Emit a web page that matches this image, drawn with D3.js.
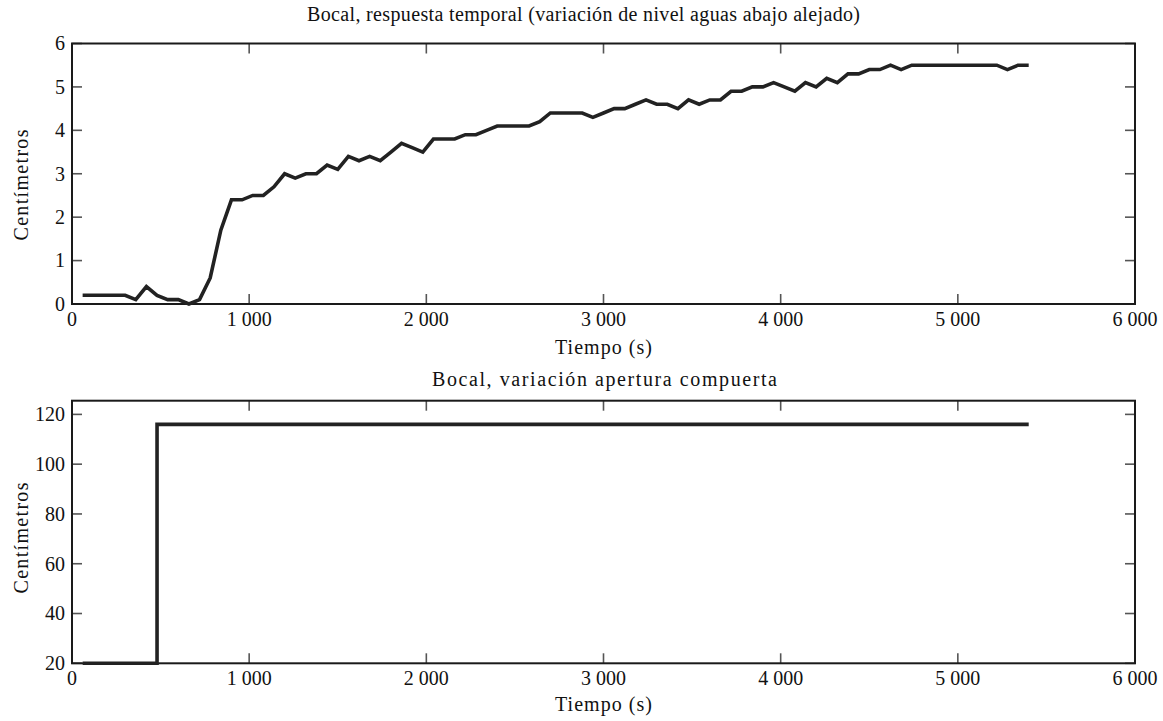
<!DOCTYPE html>
<html>
<head>
<meta charset="utf-8">
<script src="https://cdn.jsdelivr.net/npm/d3@7"></script>
<style>
  html, body { margin: 0; padding: 0; background: #fff; }
  svg text { font-family: "Liberation Serif", "DejaVu Serif", serif; fill: #111; }
</style>
</head>
<body>
<svg id="chart" width="1163" height="721"></svg>
<script>
// Bocal — two stacked panels: downstream level response and gate opening

// ── Data ────────────────────────────────────────────────────────────────────
const levelTime = [60, 300, 360, 420, 480, 540, 600, 660, 720, 780, 840, 900, 960, 1020, 1080,
    1140, 1200, 1260, 1320, 1380, 1440, 1500, 1560, 1620, 1680, 1740, 1800, 1860, 1920, 1980,
    2040, 2160, 2220, 2280, 2340, 2400, 2580, 2640, 2700, 2880, 2940, 3000, 3060, 3120, 3180,
    3240, 3300, 3360, 3420, 3480, 3540, 3600, 3660, 3720, 3780, 3840, 3900, 3960, 4020, 4080,
    4140, 4200, 4260, 4320, 4380, 4440, 4500, 4560, 4620, 4680, 4740, 5220, 5280, 5340, 5400];
const levelCm = [0.2, 0.2, 0.1, 0.4, 0.2, 0.1, 0.1, 0.0, 0.1, 0.6, 1.7, 2.4, 2.4, 2.5, 2.5,
    2.7, 3.0, 2.9, 3.0, 3.0, 3.2, 3.1, 3.4, 3.3, 3.4, 3.3, 3.5, 3.7, 3.6, 3.5,
    3.8, 3.8, 3.9, 3.9, 4.0, 4.1, 4.1, 4.2, 4.4, 4.4, 4.3, 4.4, 4.5, 4.5, 4.6,
    4.7, 4.6, 4.6, 4.5, 4.7, 4.6, 4.7, 4.7, 4.9, 4.9, 5.0, 5.0, 5.1, 5.0, 4.9,
    5.1, 5.0, 5.2, 5.1, 5.3, 5.3, 5.4, 5.4, 5.5, 5.4, 5.5, 5.5, 5.4, 5.5, 5.5];

const gateTime = [60, 480, 480, 5400];
const gateCm   = [20, 20, 116, 116];

const xTicks     = [0, 1000, 2000, 3000, 4000, 5000, 6000];
const levelTicks = [0, 1, 2, 3, 4, 5, 6];
const gateTicks  = [20, 40, 60, 80, 100, 120];

const TITLE_TOP    = 'Bocal, respuesta temporal (variación de nivel aguas abajo alejado)';
const TITLE_BOTTOM = 'Bocal, variación apertura compuerta';
const X_LABEL = 'Tiempo (s)';
const Y_LABEL = 'Centímetros';

// ── Setup ───────────────────────────────────────────────────────────────────
const svg = d3.select('#chart');
const FONT = 20;
const locale = d3.formatLocale({ decimal: ',', thousands: ' ', grouping: [3], currency: ['', ''] });
const fmtX = locale.format(',d');

const x = d3.scaleLinear().domain([0, 6000]).range([72, 1135]);

// the original face (Palatino-like) is wider than Liberation Serif,
// so the long strings are stretched to the measured widths
function label(g, txt, px, py, len, rotate) {
    const t = g.append('text')
        .attr('text-anchor', 'middle').attr('font-size', FONT)
        .attr('textLength', len).attr('lengthAdjust', 'spacing')
        .text(txt);
    if (rotate) t.attr('transform', `translate(${px},${py}) rotate(-90)`);
    else t.attr('x', px).attr('y', py);
    return t;
}

function panel({ top, bottom, yDomain, yTicks, times, values, title, titleX, titleY, titleLen, yLabelY, xLabelY }) {
    const y = d3.scaleLinear().domain(yDomain).range([bottom, top]);
    const g = svg.append('g');

    // inward ticks on all four sides
    const tickLen = 10;
    const tickCol = '#555';
    g.selectAll('.xt-b').data(xTicks).join('line')
        .attr('x1', d => x(d)).attr('x2', d => x(d))
        .attr('y1', bottom).attr('y2', bottom - tickLen)
        .attr('stroke', tickCol).attr('stroke-width', 1.6);
    g.selectAll('.xt-t').data(xTicks).join('line')
        .attr('x1', d => x(d)).attr('x2', d => x(d))
        .attr('y1', top).attr('y2', top + tickLen)
        .attr('stroke', tickCol).attr('stroke-width', 1.6);
    g.selectAll('.yt-l').data(yTicks).join('line')
        .attr('x1', x.range()[0]).attr('x2', x.range()[0] + tickLen)
        .attr('y1', d => y(d)).attr('y2', d => y(d))
        .attr('stroke', tickCol).attr('stroke-width', 1.6);
    g.selectAll('.yt-r').data(yTicks).join('line')
        .attr('x1', x.range()[1]).attr('x2', x.range()[1] - tickLen)
        .attr('y1', d => y(d)).attr('y2', d => y(d))
        .attr('stroke', tickCol).attr('stroke-width', 1.6);

    // frame
    g.append('rect')
        .attr('x', x.range()[0]).attr('y', top)
        .attr('width', x.range()[1] - x.range()[0]).attr('height', bottom - top)
        .attr('fill', 'none').attr('stroke', '#1a1a1a').attr('stroke-width', 2);

    // series
    const pts = times.map((t, i) => [t, values[i]]);
    g.append('path')
        .datum(pts)
        .attr('d', d3.line().x(d => x(d[0])).y(d => y(d[1])))
        .attr('fill', 'none').attr('stroke', '#222')
        .attr('stroke-width', 3.6).attr('stroke-linejoin', 'miter');

    // tick labels
    g.selectAll('.xl').data(xTicks).join('text')
        .attr('x', d => x(d)).attr('y', bottom + 22)
        .attr('text-anchor', 'middle').attr('font-size', FONT)
        .text(d => fmtX(d));
    g.selectAll('.yl').data(yTicks).join('text')
        .attr('x', x.range()[0] - 7).attr('y', d => y(d))
        .attr('dy', '0.34em')
        .attr('text-anchor', 'end').attr('font-size', FONT)
        .text(d => d);

    // titles & axis labels
    label(g, title, titleX, titleY, titleLen, false);
    label(g, X_LABEL, 603.5, xLabelY, 97, false);
    label(g, Y_LABEL, 28, yLabelY, 111, true);
}

panel({
    top: 43.5, bottom: 304, yDomain: [0, 6], yTicks: levelTicks,
    times: levelTime, values: levelCm,
    title: TITLE_TOP, titleX: 583.5, titleY: 21, titleLen: 553, yLabelY: 185, xLabelY: 354
});

panel({
    top: 400.7, bottom: 663.3, yDomain: [20, 125.5], yTicks: gateTicks,
    times: gateTime, values: gateCm,
    title: TITLE_BOTTOM, titleX: 604.5, titleY: 386, titleLen: 345, yLabelY: 538, xLabelY: 711
});
</script>
</body>
</html>
